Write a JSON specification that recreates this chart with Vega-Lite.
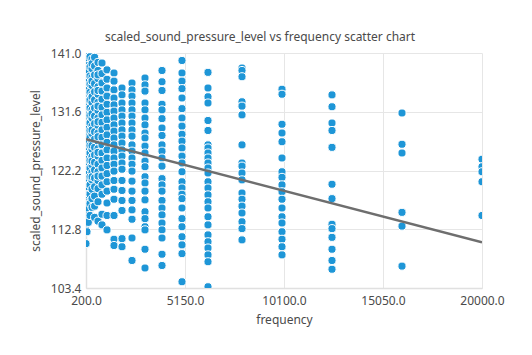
{
  "$schema": "https://vega.github.io/schema/vega-lite/v6.json",
  "width": 396,
  "height": 235,
  "autosize": {"type": "none"},
  "padding": {"left": 86, "top": 53, "right": 50, "bottom": 67},
  "background": "white",
  "title": {"text": "scaled_sound_pressure_level vs frequency scatter chart", "anchor": "middle", "dx": -24, "offset": 3, "font": "Noto Sans", "fontSize": 12, "fontWeight": "normal", "color": "#4a4a4a"},
  "config": {
    "view": {"stroke": null},
    "axis": {"labelFont": "Noto Sans", "labelFontSize": 12, "labelColor": "#4a4a4a", "titleFont": "Noto Sans", "titleFontSize": 12, "titleFontWeight": "normal", "titleColor": "#4a4a4a", "gridColor": "#e6e6e6", "gridWidth": 1, "domainColor": "#e0e0e0", "domainWidth": 1.5, "ticks": false, "tickSize": 0, "labelFlush": false, "labelOverlap": false}
  },
  "layer": [
    {
      "data": {"values": [
        {"f":200,"s":140.7},{"f":200,"s":139.6},{"f":200,"s":138.4},{"f":200,"s":137.5},{"f":200,"s":136.2},{"f":200,"s":135.3},{"f":200,"s":134.0},{"f":200,"s":133.1},{"f":200,"s":131.8},{"f":200,"s":130.9},{"f":200,"s":129.6},{"f":200,"s":128.7},{"f":200,"s":127.4},{"f":200,"s":126.5},{"f":200,"s":125.2},{"f":200,"s":124.3},{"f":200,"s":123.0},{"f":200,"s":122.0},{"f":200,"s":120.8},{"f":200,"s":119.4},{"f":200,"s":117.8},{"f":200,"s":116.7},{"f":200,"s":115.5},{"f":200,"s":112.7},{"f":200,"s":110.5},
        {"f":200,"s":140.1},{"f":200,"s":138.9},{"f":200,"s":136.8},{"f":200,"s":134.6},{"f":200,"s":132.4},{"f":200,"s":130.2},{"f":200,"s":128.1},{"f":200,"s":125.9},{"f":200,"s":123.7},{"f":200,"s":121.4},{"f":200,"s":118.6},
        {"f":250,"s":140.6},{"f":250,"s":139.2},{"f":250,"s":137.9},{"f":250,"s":136.8},{"f":250,"s":135.5},{"f":250,"s":134.6},{"f":250,"s":133.4},{"f":250,"s":132.3},{"f":250,"s":131.2},{"f":250,"s":130.1},{"f":250,"s":129.2},{"f":250,"s":128.0},{"f":250,"s":126.9},{"f":250,"s":125.7},{"f":250,"s":124.8},{"f":250,"s":123.6},{"f":250,"s":122.5},{"f":250,"s":121.3},{"f":250,"s":120.1},{"f":250,"s":118.5},{"f":250,"s":116.8},{"f":250,"s":114.6},{"f":250,"s":112.4},
        {"f":315,"s":140.2},{"f":315,"s":139.0},{"f":315,"s":137.6},{"f":315,"s":136.4},{"f":315,"s":135.1},{"f":315,"s":134.0},{"f":315,"s":132.9},{"f":315,"s":131.6},{"f":315,"s":130.5},{"f":315,"s":129.4},{"f":315,"s":128.3},{"f":315,"s":127.1},{"f":315,"s":125.9},{"f":315,"s":124.6},{"f":315,"s":123.4},{"f":315,"s":122.2},{"f":315,"s":121.0},{"f":315,"s":119.6},{"f":315,"s":118.3},{"f":315,"s":116.2},{"f":315,"s":113.9},
        {"f":315,"s":138.3},{"f":315,"s":135.7},{"f":315,"s":133.5},{"f":315,"s":131.0},{"f":315,"s":128.8},{"f":315,"s":126.5},{"f":315,"s":124.0},{"f":315,"s":121.6},
        {"f":400,"s":140.4},{"f":400,"s":138.8},{"f":400,"s":137.3},{"f":400,"s":136.0},{"f":400,"s":134.7},{"f":400,"s":133.5},{"f":400,"s":132.2},{"f":400,"s":131.0},{"f":400,"s":129.8},{"f":400,"s":128.6},{"f":400,"s":127.5},{"f":400,"s":126.2},{"f":400,"s":125.0},{"f":400,"s":123.8},{"f":400,"s":122.6},{"f":400,"s":121.2},{"f":400,"s":119.9},{"f":400,"s":118.4},{"f":400,"s":116.9},{"f":400,"s":115.0},
        {"f":500,"s":140.0},{"f":500,"s":138.5},{"f":500,"s":137.1},{"f":500,"s":135.8},{"f":500,"s":134.4},{"f":500,"s":133.1},{"f":500,"s":131.9},{"f":500,"s":130.6},{"f":500,"s":129.3},{"f":500,"s":128.1},{"f":500,"s":126.9},{"f":500,"s":125.6},{"f":500,"s":124.4},{"f":500,"s":123.1},{"f":500,"s":121.9},{"f":500,"s":120.7},{"f":500,"s":119.2},{"f":500,"s":117.7},{"f":500,"s":116.3},
        {"f":500,"s":139.3},{"f":500,"s":136.5},{"f":500,"s":134.0},{"f":500,"s":131.3},{"f":500,"s":128.7},{"f":500,"s":126.2},{"f":500,"s":123.7},{"f":500,"s":121.2},
        {"f":630,"s":140.3},{"f":630,"s":138.9},{"f":630,"s":137.5},{"f":630,"s":136.1},{"f":630,"s":134.8},{"f":630,"s":133.5},{"f":630,"s":132.2},{"f":630,"s":130.9},{"f":630,"s":129.7},{"f":630,"s":128.4},{"f":630,"s":127.2},{"f":630,"s":125.9},{"f":630,"s":124.7},{"f":630,"s":123.5},{"f":630,"s":122.3},{"f":630,"s":121.0},{"f":630,"s":119.6},{"f":630,"s":118.1},{"f":630,"s":116.5},{"f":630,"s":114.7},
        {"f":800,"s":139.5},{"f":800,"s":138.2},{"f":800,"s":136.9},{"f":800,"s":135.6},{"f":800,"s":134.4},{"f":800,"s":133.1},{"f":800,"s":131.8},{"f":800,"s":130.6},{"f":800,"s":129.4},{"f":800,"s":128.2},{"f":800,"s":126.9},{"f":800,"s":125.7},{"f":800,"s":124.5},{"f":800,"s":123.2},{"f":800,"s":122.0},{"f":800,"s":120.6},{"f":800,"s":119.3},{"f":800,"s":117.2},{"f":800,"s":114.1},
        {"f":800,"s":137.5},{"f":800,"s":135.0},{"f":800,"s":132.5},{"f":800,"s":130.0},{"f":800,"s":127.6},{"f":800,"s":125.1},{"f":800,"s":121.3},
        {"f":1000,"s":139.4},{"f":1000,"s":137.7},{"f":1000,"s":136.2},{"f":1000,"s":134.9},{"f":1000,"s":133.6},{"f":1000,"s":132.3},{"f":1000,"s":131.1},{"f":1000,"s":129.9},{"f":1000,"s":128.7},{"f":1000,"s":127.5},{"f":1000,"s":126.3},{"f":1000,"s":125.0},{"f":1000,"s":123.8},{"f":1000,"s":122.6},{"f":1000,"s":121.3},{"f":1000,"s":119.9},{"f":1000,"s":118.4},{"f":1000,"s":115.2},{"f":1000,"s":113.5},
        {"f":1250,"s":138.3},{"f":1250,"s":136.8},{"f":1250,"s":135.4},{"f":1250,"s":134.1},{"f":1250,"s":132.8},{"f":1250,"s":131.5},{"f":1250,"s":130.3},{"f":1250,"s":129.1},{"f":1250,"s":127.9},{"f":1250,"s":126.7},{"f":1250,"s":125.5},{"f":1250,"s":124.2},{"f":1250,"s":123.0},{"f":1250,"s":121.7},{"f":1250,"s":120.4},{"f":1250,"s":118.9},{"f":1250,"s":117.0},{"f":1250,"s":115.0},{"f":1250,"s":112.7},
        {"f":1600,"s":137.8},{"f":1600,"s":136.5},{"f":1600,"s":135.1},{"f":1600,"s":133.8},{"f":1600,"s":132.7},{"f":1600,"s":131.7},{"f":1600,"s":130.6},{"f":1600,"s":129.5},{"f":1600,"s":128.5},{"f":1600,"s":127.4},{"f":1600,"s":126.3},{"f":1600,"s":125.3},{"f":1600,"s":124.2},{"f":1600,"s":123.2},{"f":1600,"s":122.1},{"f":1600,"s":120.6},{"f":1600,"s":119.2},{"f":1600,"s":117.6},{"f":1600,"s":115.0},{"f":1600,"s":111.2},{"f":1600,"s":110.2},
        {"f":2000,"s":135.4},{"f":2000,"s":134.3},{"f":2000,"s":133.0},{"f":2000,"s":131.9},{"f":2000,"s":130.9},{"f":2000,"s":129.8},{"f":2000,"s":128.7},{"f":2000,"s":127.7},{"f":2000,"s":126.6},{"f":2000,"s":125.5},{"f":2000,"s":124.5},{"f":2000,"s":123.4},{"f":2000,"s":122.4},{"f":2000,"s":120.6},{"f":2000,"s":119.0},{"f":2000,"s":117.4},{"f":2000,"s":115.8},{"f":2000,"s":111.3},{"f":2000,"s":110.0},
        {"f":2500,"s":136.2},{"f":2500,"s":135.1},{"f":2500,"s":134.1},{"f":2500,"s":133.0},{"f":2500,"s":131.9},{"f":2500,"s":130.9},{"f":2500,"s":129.8},{"f":2500,"s":128.7},{"f":2500,"s":127.7},{"f":2500,"s":126.3},{"f":2500,"s":125.3},{"f":2500,"s":124.2},{"f":2500,"s":123.2},{"f":2500,"s":122.1},{"f":2500,"s":120.5},{"f":2500,"s":118.9},{"f":2500,"s":117.4},{"f":2500,"s":115.9},{"f":2500,"s":114.4},{"f":2500,"s":111.4},{"f":2500,"s":107.8},
        {"f":3150,"s":137.0},{"f":3150,"s":135.9},{"f":3150,"s":134.9},{"f":3150,"s":133.0},{"f":3150,"s":131.9},{"f":3150,"s":130.6},{"f":3150,"s":129.5},{"f":3150,"s":128.2},{"f":3150,"s":127.4},{"f":3150,"s":126.1},{"f":3150,"s":125.0},{"f":3150,"s":123.7},{"f":3150,"s":122.8},{"f":3150,"s":121.2},{"f":3150,"s":120.2},{"f":3150,"s":118.9},{"f":3150,"s":117.5},{"f":3150,"s":115.6},{"f":3150,"s":114.5},{"f":3150,"s":113.2},{"f":3150,"s":112.7},{"f":3150,"s":109.6},{"f":3150,"s":106.6},
        {"f":4000,"s":138.2},{"f":4000,"s":136.4},{"f":4000,"s":135.0},{"f":4000,"s":132.8},{"f":4000,"s":131.9},{"f":4000,"s":130.5},{"f":4000,"s":129.0},{"f":4000,"s":127.8},{"f":4000,"s":126.3},{"f":4000,"s":125.3},{"f":4000,"s":124.2},{"f":4000,"s":122.9},{"f":4000,"s":120.9},{"f":4000,"s":119.9},{"f":4000,"s":118.9},{"f":4000,"s":117.4},{"f":4000,"s":116.2},{"f":4000,"s":115.1},{"f":4000,"s":113.8},{"f":4000,"s":112.7},{"f":4000,"s":111.4},{"f":4000,"s":108.8},{"f":4000,"s":107.0},
        {"f":5000,"s":139.8},{"f":5000,"s":137.8},{"f":5000,"s":136.5},{"f":5000,"s":135.3},{"f":5000,"s":133.8},{"f":5000,"s":132.1},{"f":5000,"s":130.6},{"f":5000,"s":129.3},{"f":5000,"s":128.0},{"f":5000,"s":126.9},{"f":5000,"s":125.8},{"f":5000,"s":124.5},{"f":5000,"s":123.4},{"f":5000,"s":122.0},{"f":5000,"s":120.4},{"f":5000,"s":119.4},{"f":5000,"s":118.4},{"f":5000,"s":117.7},{"f":5000,"s":116.2},{"f":5000,"s":114.5},{"f":5000,"s":113.2},{"f":5000,"s":111.6},{"f":5000,"s":110.3},{"f":5000,"s":108.9},{"f":5000,"s":104.4},
        {"f":6300,"s":137.9},{"f":6300,"s":135.4},{"f":6300,"s":134.0},{"f":6300,"s":133.0},{"f":6300,"s":130.2},{"f":6300,"s":128.6},{"f":6300,"s":126.3},{"f":6300,"s":125.8},{"f":6300,"s":125.0},{"f":6300,"s":124.2},{"f":6300,"s":123.4},{"f":6300,"s":122.6},{"f":6300,"s":121.8},{"f":6300,"s":120.4},{"f":6300,"s":119.4},{"f":6300,"s":118.3},{"f":6300,"s":117.2},{"f":6300,"s":116.2},{"f":6300,"s":114.8},{"f":6300,"s":113.5},{"f":6300,"s":111.9},{"f":6300,"s":110.8},{"f":6300,"s":109.8},{"f":6300,"s":108.7},{"f":6300,"s":107.6},{"f":6300,"s":103.6},
        {"f":8000,"s":138.6},{"f":8000,"s":138.2},{"f":8000,"s":137.2},{"f":8000,"s":133.2},{"f":8000,"s":132.5},{"f":8000,"s":131.1},{"f":8000,"s":126.3},{"f":8000,"s":123.4},{"f":8000,"s":122.9},{"f":8000,"s":121.8},{"f":8000,"s":120.7},{"f":8000,"s":118.6},{"f":8000,"s":117.6},{"f":8000,"s":116.5},{"f":8000,"s":115.4},{"f":8000,"s":114.0},{"f":8000,"s":112.9},{"f":8000,"s":111.1},
        {"f":10000,"s":135.2},{"f":10000,"s":134.4},{"f":10000,"s":129.6},{"f":10000,"s":128.2},{"f":10000,"s":126.8},{"f":10000,"s":124.2},{"f":10000,"s":122.0},{"f":10000,"s":121.1},{"f":10000,"s":119.9},{"f":10000,"s":118.8},{"f":10000,"s":117.6},{"f":10000,"s":116.2},{"f":10000,"s":114.8},{"f":10000,"s":113.8},{"f":10000,"s":112.4},{"f":10000,"s":111.2},{"f":10000,"s":110.0},{"f":10000,"s":108.7},
        {"f":12500,"s":134.3},{"f":12500,"s":132.4},{"f":12500,"s":129.8},{"f":12500,"s":128.6},{"f":12500,"s":125.9},{"f":12500,"s":120.0},{"f":12500,"s":117.7},{"f":12500,"s":113.6},{"f":12500,"s":112.9},{"f":12500,"s":111.5},{"f":12500,"s":109.6},{"f":12500,"s":107.8},{"f":12500,"s":106.4},
        {"f":16000,"s":131.4},{"f":16000,"s":126.4},{"f":16000,"s":125.0},{"f":16000,"s":115.5},{"f":16000,"s":113.3},{"f":16000,"s":106.9},
        {"f":20000,"s":124.0},{"f":20000,"s":122.8},{"f":20000,"s":122.0},{"f":20000,"s":120.4},{"f":20000,"s":115.0}
      ]},
      "mark": {"type": "circle", "size": 66, "opacity": 1, "color": "#1e96d7", "stroke": "white", "strokeWidth": 1, "clip": true},
      "encoding": {
        "x": {"field": "f", "type": "quantitative", "title": "frequency", "scale": {"domain": [200, 20000], "nice": false, "zero": false}, "axis": {"values": [200, 5150, 10100, 15050, 20000], "format": ".1f", "labelPadding": 7, "titlePadding": 8}},
        "y": {"field": "s", "type": "quantitative", "title": "scaled_sound_pressure_level", "scale": {"domain": [103.4, 141.0], "nice": false, "zero": false}, "axis": {"values": [103.4, 112.8, 122.2, 131.6, 141.0], "format": ".1f", "labelPadding": 5, "titlePadding": 8}}
      }
    },
    {
      "data": {"values": [{"f": 200, "s": 127.2}, {"f": 20000, "s": 110.7}]},
      "mark": {"type": "line", "color": "#6e6e6e", "strokeWidth": 2.5, "clip": true},
      "encoding": {
        "x": {"field": "f", "type": "quantitative"},
        "y": {"field": "s", "type": "quantitative"}
      }
    }
  ]
}
